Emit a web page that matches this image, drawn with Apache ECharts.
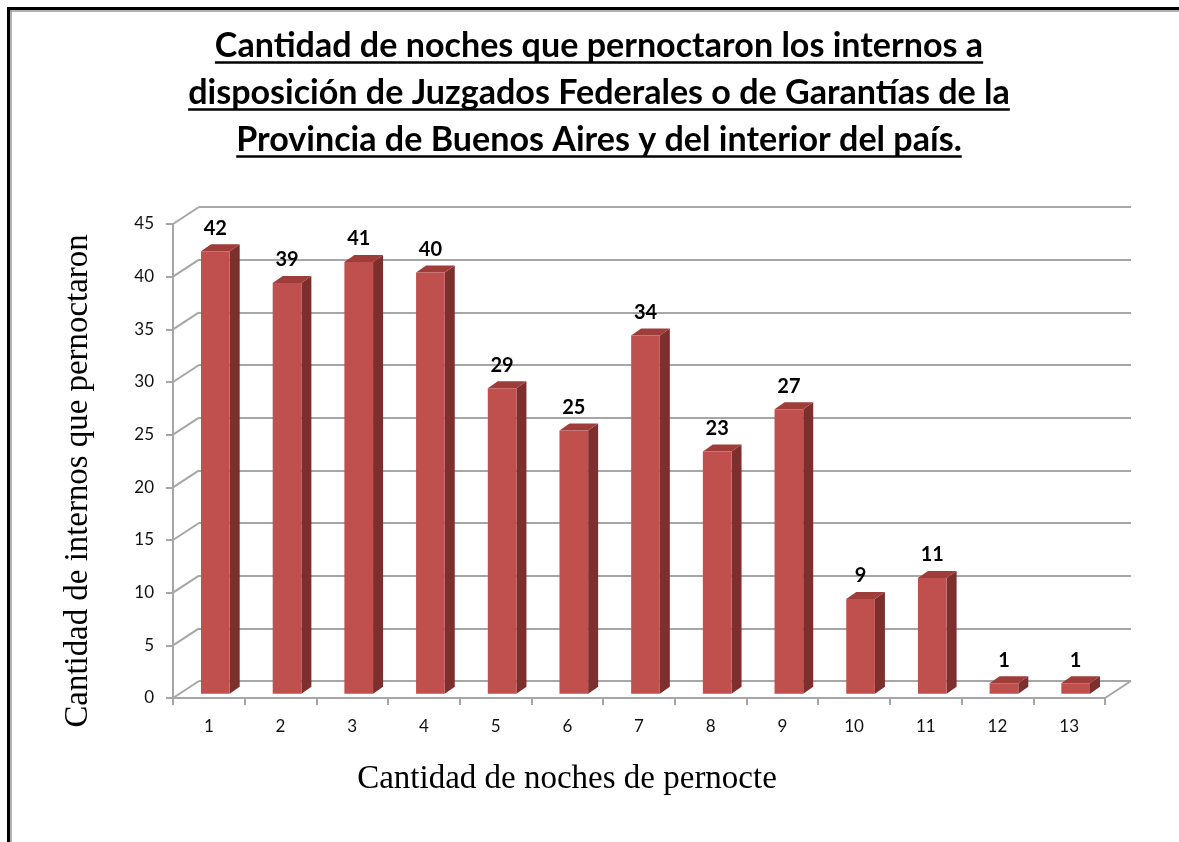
<!DOCTYPE html>
<html>
<head>
<meta charset="utf-8">
<script src="https://cdn.jsdelivr.net/npm/echarts@6/dist/echarts.min.js"></script>
<style>
html, body { margin: 0; padding: 0; background: #fff; }
#chart { width: 1179px; height: 842px; }
</style>
</head>
<body>
<div id="chart"></div>
<script>
let noches = ['1', '2', '3', '4', '5', '6', '7', '8', '9', '10', '11', '12', '13'];
let internos = [42, 39, 41, 40, 29, 25, 34, 23, 27, 9, 11, 1, 1];
let yTicks = [0, 5, 10, 15, 20, 25, 30, 35, 40, 45];
let tituloLineas = [
  'Cantidad de noches que pernoctaron los internos a',
  'disposición de Juzgados Federales o de Garantías de la',
  'Provincia de Buenos Aires y del interior del país.'
];
let tituloY = 'Cantidad de internos que pernoctaron';
let tituloX = 'Cantidad de noches de pernocte';

// profundidad del efecto 3d (pared del fondo)
let DX = 26, DY = -17;
let gris = '#A6A6A6';

let ctx = document.createElement('canvas').getContext('2d');
function medir(text, font) {
  ctx.font = font;
  return ctx.measureText(text).width;
}
function ajustar(text, family, weight, width) {
  return 100 * width / medir(text, weight + ' 100px ' + family);
}

// tamaño del titulo segun el ancho de las lineas
let anchos = [769, 821, 730];
let tSize = 0;
for (let i = 0; i < 3; i++) {
  tSize += ajustar(tituloLineas[i], 'Lato', 'bold', anchos[i]) / 3;
}
let tFont = 'bold ' + tSize.toFixed(1) + 'px Lato';
let baselines = [58, 105, 152];

let graphic = [
  { type: 'line', shape: { x1: 7, y1: 8.5, x2: 1179, y2: 8.5 }, style: { stroke: '#000', lineWidth: 3 } },
  { type: 'line', shape: { x1: 9, y1: 11, x2: 1179, y2: 11 }, style: { stroke: '#999', lineWidth: 1.5 } },
  { type: 'line', shape: { x1: 8.5, y1: 7, x2: 8.5, y2: 842 }, style: { stroke: '#000', lineWidth: 3 } },
  { type: 'line', shape: { x1: 11, y1: 10, x2: 11, y2: 842 }, style: { stroke: '#999', lineWidth: 1.5 } }
];
for (let i = 0; i < 3; i++) {
  let w = medir(tituloLineas[i], tFont);
  graphic.push({
    type: 'text', x: 599, y: baselines[i] - tSize * 0.36,
    style: { text: tituloLineas[i], font: tFont, fill: '#000', align: 'center', verticalAlign: 'middle' }
  });
  graphic.push({
    type: 'line', shape: { x1: 599 - w / 2, y1: baselines[i] + 4.5, x2: 599 + w / 2, y2: baselines[i] + 4.5 },
    style: { stroke: '#000', lineWidth: 2.5 }
  });
}
let ySize = ajustar(tituloY, '"Liberation Serif"', 'normal', 493);
let xSize = ajustar(tituloX, '"Liberation Serif"', 'normal', 420);
graphic.push({
  type: 'text', x: 78, y: 481, rotation: Math.PI / 2,
  style: { text: tituloY, font: ySize.toFixed(1) + 'px "Liberation Serif"', fill: '#000', align: 'center', verticalAlign: 'middle' }
});
graphic.push({
  type: 'text', x: 567, y: 779,
  style: { text: tituloX, font: xSize.toFixed(1) + 'px "Liberation Serif"', fill: '#000', align: 'center', verticalAlign: 'middle' }
});

function renderPared(params, api) {
  let v = api.value(1);
  let cs = params.coordSys;
  let y = api.coord([0, v])[1];
  let hijos = [{
    type: 'line', shape: { x1: cs.x, y1: y, x2: cs.x + DX, y2: y + DY },
    style: { stroke: gris, lineWidth: 2 }
  }];
  if (v === 0) {
    hijos.push({
      type: 'line', shape: { x1: cs.x + cs.width, y1: y, x2: cs.x + cs.width + DX, y2: y + DY },
      style: { stroke: gris, lineWidth: 2 }
    });
  }
  return { type: 'group', children: hijos };
}

function renderBarra(params, api) {
  let i = api.value(0), v = api.value(1);
  let top = api.coord([i, v]);
  let base = api.coord([i, 0]);
  let w = api.size([1, 0])[0] * 0.4;
  let ox = DX * 0.25, oy = DY * 0.25;
  let xl = top[0] + ox - w / 2, xr = xl + w;
  let yt = top[1] + oy, yb = base[1] + oy;
  let sx = 10, sy = -7;
  return {
    type: 'group', children: [
      { type: 'polygon', shape: { points: [[xr, yt], [xr + sx, yt + sy], [xr + sx, yb + sy], [xr, yb]] }, style: { fill: '#7D2F2D' } },
      { type: 'polygon', shape: { points: [[xl, yt], [xl + sx, yt + sy], [xr + sx, yt + sy], [xr, yt]] }, style: { fill: '#9F3D3A' } },
      { type: 'rect', shape: { x: xl, y: yt, width: w, height: yb - yt }, style: { fill: '#C0504D' } },
      { type: 'text', style: { text: String(v), x: xl + w / 2, y: yt + sy - 6, align: 'center', verticalAlign: 'bottom', font: 'bold 20px Lato', fill: '#000' } }
    ]
  };
}

let chart = echarts.init(document.getElementById('chart'), null, { renderer: 'canvas' });
let option = {
  animation: false,
  backgroundColor: '#fff',
  graphic: graphic,
  grid: [
    { left: 173, top: 224, width: 932, height: 474 },
    { left: 199, top: 207, width: 932, height: 474 }
  ],
  xAxis: [{
    gridIndex: 0, type: 'category', data: noches,
    axisLine: { lineStyle: { color: gris, width: 2 } },
    axisTick: { show: true, interval: 0, length: 7, lineStyle: { color: gris, width: 2 } },
    axisLabel: { fontFamily: 'Lato', fontSize: 17, color: '#111', margin: 20, interval: 0 }
  }, {
    gridIndex: 1, type: 'category', data: noches, show: false
  }],
  yAxis: [{
    gridIndex: 0, type: 'value', min: 0, max: 45, interval: 5,
    axisLine: { show: true, lineStyle: { color: gris, width: 2 } },
    axisTick: { show: true, length: 7, lineStyle: { color: gris, width: 2 } },
    axisLabel: { fontFamily: 'Lato', fontSize: 17, color: '#111', margin: 19 },
    splitLine: { show: false }
  }, {
    gridIndex: 1, type: 'value', min: 0, max: 45, interval: 5,
    axisLine: { show: false }, axisTick: { show: false }, axisLabel: { show: false },
    splitLine: { show: true, lineStyle: { color: gris, width: 2 } }
  }],
  series: [{
    type: 'custom', xAxisIndex: 0, yAxisIndex: 0, z: 1,
    data: yTicks.map(v => [0, v]),
    encode: { x: 0, y: 1 },
    renderItem: renderPared
  }, {
    type: 'custom', xAxisIndex: 0, yAxisIndex: 0, z: 3,
    data: internos.map((v, i) => [i, v]),
    encode: { x: 0, y: 1 },
    renderItem: renderBarra
  }]
};
chart.setOption(option);
</script>
</body>
</html>
